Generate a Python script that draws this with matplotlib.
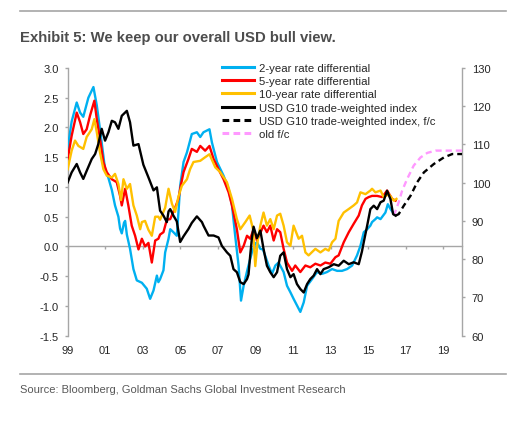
import matplotlib
matplotlib.use("Agg")
import matplotlib.pyplot as plt
import matplotlib.font_manager as fm
from matplotlib.lines import Line2D

plt.rcParams['axes.unicode_minus'] = False
plt.rcParams['font.family'] = ['Liberation Sans', 'DejaVu Sans']

names = {f.name for f in fm.fontManager.ttflist}
NARROW = 'Liberation Sans Narrow' if 'Liberation Sans Narrow' in names else None

# ---------------- data (decimal years, values) ----------------
years_2y = [1999.00, 1999.21, 1999.48, 1999.66, 1999.83, 2000.10, 2000.37, 2000.55, 2000.72, 2000.99,
            2001.17, 2001.35, 2001.52, 2001.70, 2001.79, 2001.88, 2002.00, 2002.06, 2002.15, 2002.32,
            2002.50, 2002.68, 2002.95, 2003.21, 2003.39, 2003.57, 2003.75, 2003.83, 2003.92, 2004.10,
            2004.19, 2004.37, 2004.46, 2004.63, 2004.81, 2004.90, 2004.99, 2005.17, 2005.35, 2005.61,
            2005.88, 2006.06, 2006.23, 2006.55, 2006.68, 2006.95, 2007.30, 2007.57, 2007.75, 2007.92,
            2008.10, 2008.23, 2008.37, 2008.58, 2008.81, 2008.99, 2009.08, 2009.26, 2009.40, 2009.70,
            2009.88, 2010.06, 2010.23, 2010.50, 2010.68, 2010.86, 2011.03, 2011.21, 2011.39, 2011.57,
            2011.75, 2012.01, 2012.28, 2012.55, 2012.81, 2013.08, 2013.35, 2013.61, 2013.88, 2014.15,
            2014.41, 2014.59, 2014.77, 2014.95, 2015.12, 2015.21, 2015.39, 2015.48, 2015.66, 2015.92,
            2016.05, 2016.19, 2016.37]
rate_2y = [1.65, 2.10, 2.42, 2.25, 2.18, 2.50, 2.68, 2.37, 1.97, 1.30,
           1.15, 0.95, 0.69, 0.50, 0.30, 0.22, 0.40, 0.43, 0.20, -0.04,
           -0.38, -0.57, -0.61, -0.71, -0.88, -0.74, -0.49, -0.60, -0.55, -0.40,
           -0.10, 0.13, 0.29, 0.24, 0.18, 0.58, 1.02, 1.42, 1.58, 1.89,
           1.92, 1.84, 1.92, 1.97, 1.75, 1.42, 1.19, 0.97, 0.69, 0.18,
           -0.32, -0.91, -0.66, -0.38, -0.10, 0.05, 0.07, -0.04, -0.05, -0.32,
           -0.46, -0.32, -0.27, -0.43, -0.66, -0.77, -0.88, -0.99, -1.10, -0.94,
           -0.66, -0.55, -0.43, -0.46, -0.43, -0.38, -0.41, -0.41, -0.38, -0.32,
           -0.15, 0.01, 0.24, 0.29, 0.35, 0.41, 0.46, 0.49, 0.46, 0.57,
           0.71, 0.63, 0.55]

years_5y = [1999.00, 1999.21, 1999.48, 1999.66, 1999.83, 2000.01, 2000.19, 2000.42, 2000.55, 2000.72,
            2000.90, 2001.08, 2001.35, 2001.61, 2001.79, 2001.88, 2002.06, 2002.23, 2002.41, 2002.59,
            2002.77, 2002.95, 2003.12, 2003.30, 2003.48, 2003.66, 2003.83, 2003.92, 2004.10, 2004.28,
            2004.46, 2004.72, 2004.90, 2004.99, 2005.17, 2005.43, 2005.61, 2005.88, 2006.06, 2006.32,
            2006.55, 2006.77, 2007.03, 2007.30, 2007.57, 2007.75, 2008.01, 2008.19, 2008.37, 2008.55,
            2008.72, 2008.90, 2009.08, 2009.43, 2009.61, 2009.79, 2009.97, 2010.15, 2010.32, 2010.50,
            2010.68, 2010.95, 2011.12, 2011.39, 2011.66, 2011.92, 2012.19, 2012.46, 2012.72, 2012.99,
            2013.26, 2013.43, 2013.70, 2013.97, 2014.23, 2014.50, 2014.67, 2014.86, 2015.03, 2015.21,
            2015.48, 2015.75, 2016.01, 2016.28, 2016.46]
rate_5y = [1.47, 1.86, 2.25, 2.09, 1.89, 1.97, 2.20, 2.45, 2.14, 1.81,
           1.42, 1.25, 1.13, 1.08, 0.85, 0.69, 0.97, 0.69, 0.35, 0.18,
           -0.05, 0.13, 0.00, 0.06, -0.27, 0.10, 0.13, 0.20, 0.24, 0.45,
           0.46, 0.65, 0.80, 0.97, 1.25, 1.47, 1.64, 1.59, 1.69, 1.61,
           1.69, 1.47, 1.30, 1.13, 0.91, 0.69, 0.29, -0.10, 0.01, 0.18,
           0.13, 0.29, 0.10, 0.35, 0.24, 0.35, 0.10, 0.29, 0.24, -0.04,
           -0.27, -0.41, -0.32, -0.43, -0.32, -0.35, -0.29, -0.32, -0.27, -0.29,
           -0.18, -0.15, 0.07, 0.24, 0.38, 0.52, 0.69, 0.80, 0.83, 0.85,
           0.85, 0.83, 0.94, 0.80, 0.77]

years_10y = [1999.00, 1999.21, 1999.39, 1999.57, 1999.83, 2000.01, 2000.28, 2000.42, 2000.55, 2000.72,
             2000.90, 2001.08, 2001.35, 2001.52, 2001.70, 2001.84, 2001.97, 2002.15, 2002.32, 2002.50,
             2002.68, 2002.86, 2002.95, 2003.12, 2003.30, 2003.48, 2003.66, 2003.83, 2003.92, 2004.19,
             2004.37, 2004.55, 2004.72, 2004.90, 2005.08, 2005.35, 2005.52, 2005.70, 2006.06, 2006.32,
             2006.55, 2006.86, 2007.12, 2007.48, 2007.75, 2008.01, 2008.19, 2008.46, 2008.69, 2008.87,
             2008.99, 2009.12, 2009.26, 2009.43, 2009.61, 2009.79, 2009.97, 2010.15, 2010.32, 2010.50,
             2010.68, 2010.86, 2011.03, 2011.30, 2011.48, 2011.66, 2011.83, 2012.19, 2012.46, 2012.72,
             2012.90, 2013.08, 2013.26, 2013.43, 2013.70, 2013.97, 2014.23, 2014.41, 2014.59, 2014.86,
             2015.12, 2015.21, 2015.39, 2015.66, 2015.83, 2016.10, 2016.37, 2016.51]
rate_10y = [1.30, 1.61, 1.78, 1.69, 1.64, 1.84, 1.97, 2.14, 1.92, 1.58,
            1.30, 1.19, 1.16, 1.22, 1.05, 0.78, 1.13, 0.97, 1.05, 0.69,
            0.52, 0.29, 0.41, 0.43, 0.28, 0.18, 0.50, 0.50, 0.45, 0.65,
            0.97, 0.72, 0.58, 0.84, 1.02, 1.13, 1.30, 1.42, 1.44, 1.50,
            1.55, 1.33, 1.25, 1.08, 0.80, 0.46, 0.29, 0.41, 0.52, 0.29,
            -0.33, 0.10, 0.35, 0.57, 0.35, 0.46, 0.29, 0.52, 0.55, 0.35,
            0.07, 0.01, 0.35, 0.13, 0.18, -0.10, -0.15, -0.04, -0.10, -0.04,
            -0.07, 0.07, 0.13, 0.43, 0.57, 0.63, 0.69, 0.74, 0.91, 0.88,
            0.94, 0.97, 0.91, 0.94, 0.83, 0.88, 0.77, 0.80]

years_usd = [1999.00, 1999.21, 1999.48, 1999.66, 1999.83, 2000.01, 2000.28, 2000.46, 2000.63, 2000.81,
             2000.99, 2001.17, 2001.35, 2001.52, 2001.70, 2001.88, 2002.15, 2002.32, 2002.50, 2002.77,
             2003.03, 2003.30, 2003.57, 2003.75, 2003.92, 2004.10, 2004.28, 2004.37, 2004.46, 2004.63,
             2004.81, 2004.99, 2005.17, 2005.43, 2005.61, 2005.88, 2006.15, 2006.23, 2006.50, 2006.77,
             2007.03, 2007.21, 2007.48, 2007.66, 2007.83, 2008.01, 2008.19, 2008.37, 2008.55, 2008.63,
             2008.72, 2008.81, 2008.90, 2009.08, 2009.26, 2009.43, 2009.61, 2009.79, 2009.97, 2010.15,
             2010.32, 2010.50, 2010.68, 2010.86, 2011.03, 2011.21, 2011.39, 2011.57, 2011.75, 2011.92,
             2012.10, 2012.28, 2012.46, 2012.63, 2012.90, 2013.17, 2013.43, 2013.70, 2013.97, 2014.23,
             2014.50, 2014.67, 2014.77, 2014.95, 2015.12, 2015.30, 2015.48, 2015.66, 2015.83, 2016.01,
             2016.19, 2016.33, 2016.46]
usd_index = [100.1, 102.7, 104.9, 102.7, 101.0, 103.1, 106.2, 107.5, 110.1, 114.1,
             111.0, 113.2, 116.2, 115.8, 114.1, 117.5, 118.8, 115.8, 109.7, 110.1,
             104.7, 101.4, 98.0, 98.8, 92.7, 91.4, 89.7, 92.5, 93.1, 91.4,
             89.9, 84.5, 86.0, 87.9, 89.5, 91.2, 89.7, 88.8, 86.2, 86.2,
             85.7, 83.5, 81.8, 80.9, 77.4, 76.6, 74.0, 73.5, 74.8, 76.0,
             81.0, 85.5, 88.5, 85.5, 87.5, 82.7, 78.3, 76.6, 75.3, 76.6,
             80.9, 81.8, 77.4, 75.3, 76.1, 73.5, 72.2, 71.3, 73.5, 74.8,
             75.7, 77.4, 76.1, 77.4, 77.9, 78.7, 78.3, 79.6, 78.7, 79.2,
             78.7, 82.0, 84.5, 88.8, 93.1, 94.0, 93.1, 94.9, 95.3, 97.9,
             95.7, 91.8, 91.4]

years_fc = [2016.46, 2016.63, 2016.90, 2017.26, 2017.61, 2017.97, 2018.50, 2019.03, 2019.48, 2020.00]
usd_fc = [91.4, 91.8, 94.0, 96.6, 100.1, 102.7, 104.9, 106.6, 107.5, 107.5]

years_old = [2016.37, 2016.63, 2016.81, 2017.08, 2017.43, 2017.79, 2018.15, 2018.59, 2020.00]
usd_old_fc = [91.4, 94.9, 97.9, 101.0, 104.5, 106.6, 107.8, 108.4, 108.4]

left_ticks = [-1.5, -1.0, -0.5, 0.0, 0.5, 1.0, 1.5, 2.0, 2.5, 3.0]
right_ticks = [60, 70, 80, 90, 100, 110, 120, 130]
x_ticks = [1999, 2001, 2003, 2005, 2007, 2009, 2011, 2013, 2015, 2017, 2019]
x_labels = ['99', '01', '03', '05', '07', '09', '11', '13', '15', '17', '19']

series_labels = ['2-year rate differential', '5-year rate differential', '10-year rate differential',
                 'USD G10 trade-weighted index', 'USD G10 trade-weighted index, f/c', 'old f/c']

# ---------------- styling ----------------
C_BLUE, C_RED, C_ORANGE, C_BLACK, C_PINK = '#00B0F0', '#FF0000', '#FFC000', '#000000', '#FF99FF'
GRID = '#A6A6A6'
TXT = '#262626'
W, H = 510, 431
LW = 1.7

fig = plt.figure(figsize=(W / 100, H / 100), dpi=100)
L, R, T, B = 67.7, 462.0, 69.0, 336.7
ax = fig.add_axes([L / W, 1 - B / H, (R - L) / W, (B - T) / H])

ax.plot(years_2y, rate_2y, color=C_BLUE, lw=LW, zorder=3)
ax.plot(years_5y, rate_5y, color=C_RED, lw=LW, zorder=4)
ax.plot(years_10y, rate_10y, color=C_ORANGE, lw=LW, zorder=5)
ax.set_xlim(1999, 2020)
ax.set_ylim(-1.5, 3.0)
ax.set_yticks(left_ticks)
ax.set_yticklabels([f'{v:.1f}' for v in left_ticks])

for s in ['top', 'right']:
    ax.spines[s].set_visible(False)
ax.spines['left'].set_color(GRID)
ax.spines['left'].set_linewidth(1.0)
ax.spines['bottom'].set_position(('data', 0))
ax.spines['bottom'].set_color(GRID)
ax.spines['bottom'].set_linewidth(1.0)
ax.spines['bottom'].set_zorder(1)
ax.set_xticks(x_ticks)
ax.tick_params(axis='x', length=2.4, width=1.0, color=GRID, direction='out', labelbottom=False)
ax.tick_params(axis='y', length=2.4, width=1.0, color=GRID, direction='out', pad=4,
               labelsize=8, labelcolor=TXT)

sec = ax.secondary_xaxis(0.0)
sec.set_xticks(x_ticks)
sec.set_xticklabels(x_labels)
sec.spines['bottom'].set_visible(False)
sec.tick_params(axis='x', length=0, pad=7, labelsize=8, labelcolor=TXT)

ax2 = ax.twinx()
ax2.plot(years_usd, usd_index, color=C_BLACK, lw=LW, zorder=6)
ax2.plot(years_old, usd_old_fc, color=C_PINK, lw=LW, dashes=(2.6, 1.7), zorder=5)
ax2.plot(years_fc, usd_fc, color=C_BLACK, lw=LW, dashes=(2.6, 1.7), zorder=6)
ax2.set_ylim(60, 130)
ax2.set_yticks(right_ticks)
for s in ['top', 'left', 'bottom']:
    ax2.spines[s].set_visible(False)
ax2.spines['right'].set_color(GRID)
ax2.spines['right'].set_linewidth(1.0)
ax2.tick_params(axis='y', length=2.4, width=1.0, color=GRID, direction='out', pad=4.6,
                labelsize=8, labelcolor=TXT)

handles = [Line2D([], [], color=C_BLUE, lw=2.2),
           Line2D([], [], color=C_RED, lw=2.2),
           Line2D([], [], color=C_ORANGE, lw=2.2),
           Line2D([], [], color=C_BLACK, lw=2.2),
           Line2D([], [], color=C_BLACK, lw=2.2, dashes=(2.2, 1.4)),
           Line2D([], [], color=C_PINK, lw=2.2, dashes=(2.2, 1.4))]
leg = ax2.legend(handles, series_labels, loc='upper left',
                 bbox_to_anchor=(222 / W, 1 - 64 / H), bbox_transform=fig.transFigure,
                 frameon=False, fontsize=8.2, handlelength=2.8, handletextpad=0.45,
                 labelspacing=0.28, borderpad=0, borderaxespad=0)
for t in leg.get_texts():
    t.set_color(TXT)

# ---------------- header / footer ----------------
fig.add_artist(Line2D([20 / W, 506 / W], [1 - 12 / H, 1 - 12 / H], transform=fig.transFigure,
                      color=GRID, lw=1.2))
fig.add_artist(Line2D([20 / W, 506 / W], [1 - 375 / H, 1 - 375 / H], transform=fig.transFigure,
                      color=GRID, lw=1.2))
title = 'Exhibit 5: We keep our overall USD bull view.'
source = 'Source: Bloomberg, Goldman Sachs Global Investment Research'
if NARROW:
    fig.text(20 / W, 1 - 38 / H, title, family=[NARROW, 'DejaVu Sans'], fontweight='bold',
             fontsize=11.5, color='#4D4D4D', va='center', ha='left')
    fig.text(20 / W, 1 - 390 / H, source, family=[NARROW, 'DejaVu Sans'],
             fontsize=8.8, color='#595959', va='center', ha='left')
else:
    fig.text(20 / W, 1 - 38 / H, title, fontweight='bold',
             fontsize=10.7, color='#4D4D4D', va='center', ha='left')
    fig.text(20 / W, 1 - 390 / H, source,
             fontsize=8.05, color='#595959', va='center', ha='left')

fig.savefig('out.png', dpi=100)
